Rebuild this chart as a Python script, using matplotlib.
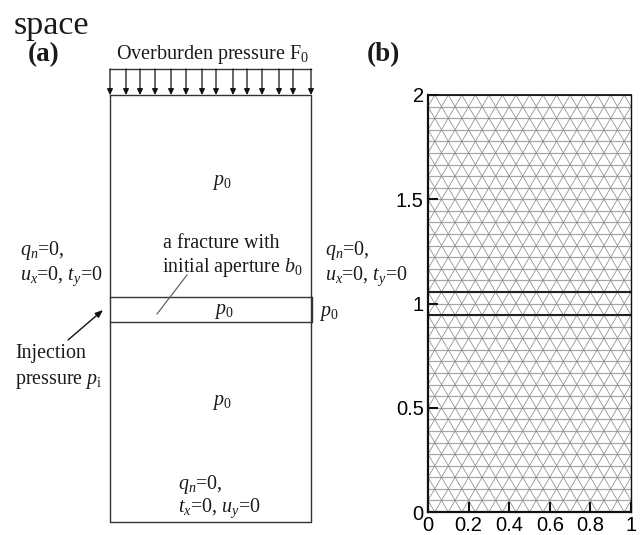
import numpy as np
import matplotlib
matplotlib.use('Agg')
import matplotlib.pyplot as plt

plt.rcParams['font.family'] = 'Liberation Serif'
plt.rcParams['mathtext.fontset'] = 'custom'
plt.rcParams['mathtext.rm'] = 'Liberation Serif'
plt.rcParams['mathtext.it'] = 'Liberation Serif:italic'
plt.rcParams['mathtext.bf'] = 'Liberation Serif:bold'

# panel (b): mesh and axes values
x_ticks = [0, 0.2, 0.4, 0.6, 0.8, 1]
x_labels = ['0', '0.2', '0.4', '0.6', '0.8', '1']
y_ticks = [0, 0.5, 1, 1.5, 2]
y_labels = ['0', '0.5', '1', '1.5', '2']
fracture_y = [0.9444, 1.0556]
n_cols = 15
n_rows = 36

# panel (a): schematic, in pixels of the picture
box_x = [110, 311]
box_y = [95, 522]
frac_py = [297, 322]
arrow_xs = [110, 126, 140, 155, 171, 186, 202, 216, 233, 247, 262, 279, 293, 311]

fig = plt.figure(figsize=(6.4, 5.35), dpi=100)

# -------------------------------
# PANEL A
# -------------------------------
ax = fig.add_axes([0, 0, 1, 1])
ax.set_xlim(0, 640)
ax.set_ylim(535, 0)
ax.axis('off')

c = '#333333'
ax.plot([box_x[0], box_x[1], box_x[1], box_x[0], box_x[0]],
        [box_y[0], box_y[0], box_y[1], box_y[1], box_y[0]], color=c, lw=1.0)
for fy in frac_py:
    ax.plot(box_x, [fy, fy], color=c, lw=1.0)
ax.plot([box_x[1] + 1, box_x[1] + 1], frac_py, color=c, lw=1.0)

# overburden load
ax.plot([arrow_xs[0], arrow_xs[-1]], [69, 69], color=c, lw=1.0)
for ax_x in arrow_xs:
    ax.annotate('', xy=(ax_x, 95), xytext=(ax_x, 69),
                arrowprops=dict(arrowstyle='-|>,head_width=0.17,head_length=0.35',
                                color='#111111', lw=0.9, shrinkA=0, shrinkB=0))

# arrows
ax.annotate('', xy=(103, 310), xytext=(68, 340),
            arrowprops=dict(arrowstyle='-|>,head_width=0.18,head_length=0.45',
                            color='#111111', lw=1.0, shrinkA=0, shrinkB=0))
ax.plot([187, 157], [275, 314], color='#555555', lw=0.8)

def txt(x, y, s, size=14.4, ha='left', **kw):
    ax.text(x, y, s, fontsize=size, ha=ha, va='baseline', color='#1a1a1a', **kw)

txt(14, 34, 'space', size=24.5)
txt(28, 61, '(a)', size=19.5, fontweight='bold')
txt(367, 61, '(b)', size=19.5, fontweight='bold')
txt(116, 59, r'Overburden pressure F$_0$', size=14.5)

txt(20, 255, r'$q_n$=0,')
txt(20, 280, r'$u_x$=0, $t_y$=0')
txt(325, 255, r'$q_n$=0,')
txt(325, 280, r'$u_x$=0, $t_y$=0')
txt(163, 248, 'a fracture with')
txt(162, 272, r'initial aperture $b_0$')
txt(222, 185, r'$p_0$', ha='center')
txt(224, 314, r'$p_0$', ha='center')
txt(319, 316, r'$p_0$')
txt(222, 405, r'$p_0$', ha='center')
txt(15, 358, 'Injection')
txt(15, 384, r'pressure $p_{\mathrm{i}}$')
txt(178, 489, r'$q_n$=0,')
txt(178, 512, r'$t_x$=0, $u_y$=0')

# -------------------------------
# PANEL B
# -------------------------------
left, right, top, bottom = 428, 631, 95, 512
axb = fig.add_axes([left / 640, 1 - bottom / 535, (right - left) / 640, (bottom - top) / 535])
axb.set_xlim(0, 1)
axb.set_ylim(0, 2)

dx = 1 / n_cols
dy = 2 / n_rows
# regular triangle mesh, nodes shift half a cell every row
for i in range(n_rows + 1):
    axb.plot([0, 1], [i * dy, i * dy], color='#a8a8a8', lw=0.9, zorder=1)
for j in range(-n_rows, n_cols + n_rows + 1):
    x0 = (j + 0.5) * dx
    axb.plot([x0, x0 + (n_rows / 2) * dx], [0, 2], color='#8c8c8c', lw=0.55, zorder=1)
    axb.plot([x0, x0 - (n_rows / 2) * dx], [0, 2], color='#8c8c8c', lw=0.55, zorder=1)
for fy in fracture_y:
    axb.plot([0, 1], [fy, fy], color='#222222', lw=1.5, zorder=2)

for side in axb.spines.values():
    side.set_linewidth(1.0)
    side.set_color('#111111')
axb.spines['left'].set_linewidth(1.6)
axb.spines['bottom'].set_linewidth(1.6)
axb.spines['top'].set_linewidth(1.3)

axb.set_xticks(x_ticks)
axb.set_xticklabels(x_labels)
axb.set_yticks(y_ticks)
axb.set_yticklabels(y_labels)
axb.tick_params(direction='in', length=7, width=1.5, labelsize=14.5, pad=3, color='#111111')
for lab in axb.get_xticklabels() + axb.get_yticklabels():
    lab.set_fontfamily('Liberation Sans')

fig.savefig('out.png', dpi=100)
